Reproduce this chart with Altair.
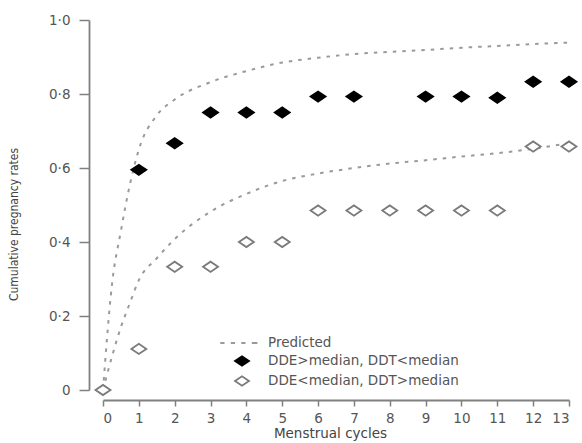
import altair as alt
import pandas as pd

# ---- data ----
series_names = ["Predicted", "DDE>median, DDT<median", "DDE<median, DDT>median"]

cycles_high = [1, 2, 3, 4, 5, 6, 7, 9, 10, 11, 12, 13]
rate_high = [0.595, 0.667, 0.75, 0.75, 0.75, 0.793, 0.793, 0.793, 0.793, 0.79, 0.833, 0.833]

cycles_low = [0, 1, 2, 3, 4, 5, 6, 7, 8, 9, 10, 11, 12, 13]
rate_low = [0.0, 0.111, 0.333, 0.333, 0.4, 0.4, 0.485, 0.485, 0.485, 0.485, 0.485, 0.485, 0.658, 0.658]

pred_x = [0, 0.25, 0.5, 0.75, 1, 1.5, 2, 3, 4, 5, 6, 7, 8, 9, 10, 11, 12, 13]
pred_upper = [0.0, 0.285, 0.43, 0.555, 0.65, 0.742, 0.785, 0.832, 0.862, 0.885, 0.898,
              0.908, 0.914, 0.919, 0.925, 0.93, 0.935, 0.939]
pred_lower = [0.0, 0.09, 0.17, 0.235, 0.297, 0.356, 0.408, 0.482, 0.53, 0.565, 0.585,
              0.6, 0.612, 0.621, 0.631, 0.64, 0.652, 0.667]

x_ticks = list(range(14))
y_ticks = [0, 0.2, 0.4, 0.6, 0.8, 1.0]

# ---- tables ----
pts = pd.DataFrame({
    "cycle": cycles_high + cycles_low,
    "rate": rate_high + rate_low,
    "series": [series_names[1]] * len(cycles_high) + [series_names[2]] * len(cycles_low),
})
n = len(pred_x)
pred = pd.DataFrame({
    "cycle": pred_x + pred_x,
    "rate": pred_upper + pred_lower,
    "curve": ["upper"] * n + ["lower"] * n,
    "series": [series_names[0]] * (2 * n),
})

DIAMOND = "M-1,0L0,-0.68L1,0L0,0.68Z"
DASH = "M-3.1,0H-2.5M-1.6,0H-1.0M-0.1,0H0.5M1.4,0H2.2"

shape_scale = alt.Scale(domain=series_names, range=[DASH, DIAMOND, DIAMOND])
fill_scale = alt.Scale(domain=series_names, range=["transparent", "black", "white"])
stroke_scale = alt.Scale(domain=series_names, range=["#9a9a9a", "black", "#7a7a7a"])

legend = alt.Legend(
    title=None, orient="none", legendX=131, legendY=315,
    symbolSize=196, symbolStrokeWidth=1.8,
    labelFont="DejaVu Sans", labelFontSize=13.5, labelColor="#555555",
    labelOffset=18, rowPadding=2, labelLimit=0, padding=0,
)

x_enc = alt.X(
    "cycle:Q",
    scale=alt.Scale(domain=[0, 13], nice=False, zero=False),
    axis=alt.Axis(
        values=x_ticks, title="Menstrual cycles", offset=10, tickSize=6,
        labelPadding=5, titlePadding=2, format="d", titleFontSize=13.5,
        titleX=227,
    ),
)
y_enc = alt.Y(
    "rate:Q",
    scale=alt.Scale(domain=[0, 1], nice=False),
    axis=alt.Axis(
        values=y_ticks, title="Cumulative pregnancy rates", offset=14,
        tickSize=10, labelPadding=9,
        labelExpr="datum.value == 0 ? '0' : replace(format(datum.value, '.1f'), '.', '·')",
        titleFont="DejaVu Sans Condensed", titleFontWeight="normal",
        titleFontSize=12, titleX=-69, titleY=204, titleAnchor="middle",
    ),
)

lines = alt.Chart(pred).mark_line(
    strokeWidth=2, strokeDash=[3.5, 6], interpolate="monotone"
).encode(
    x=x_enc, y=y_enc, detail="curve:N",
    stroke=alt.Stroke("series:N", scale=stroke_scale, legend=legend),
)

points = alt.Chart(pts).mark_point(
    size=225, strokeWidth=1.8, opacity=1, fillOpacity=1
).encode(
    x=x_enc, y=y_enc,
    shape=alt.Shape("series:N", scale=shape_scale, legend=legend),
    fill=alt.Fill("series:N", scale=fill_scale, legend=legend),
    stroke=alt.Stroke("series:N", scale=stroke_scale, legend=legend),
)

chart = alt.layer(lines, points).properties(
    width=466, height=370,
    autosize=alt.AutoSizeParams(type="none"),
    padding={"left": 103, "top": 20, "right": 13, "bottom": 53},
).configure_view(stroke=None).configure_axis(
    grid=False, domainColor="#808080", tickColor="#808080", domainWidth=1.8,
    tickWidth=1.5, labelFont="DejaVu Sans", labelFontSize=13.5, labelColor="#555555",
    titleFont="DejaVu Sans", titleFontSize=12, titleColor="#444444",
    titleFontWeight="normal",
)

chart.save("out.html", embed_options={"renderer": "svg", "actions": False})
